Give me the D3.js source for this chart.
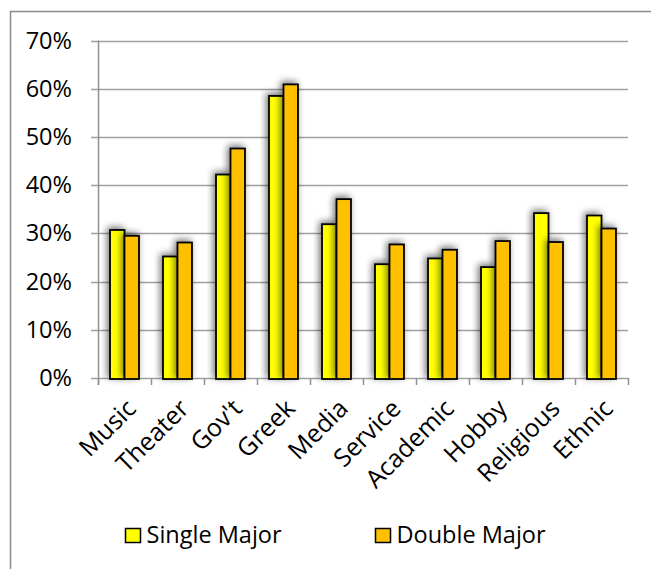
<!DOCTYPE html>
<html>
<head>
<meta charset="utf-8">
<script src="https://cdn.jsdelivr.net/npm/d3@7"></script>
<style>
  html, body { margin: 0; padding: 0; background: #fff; }
  svg { display: block; }
  text { font-family: "Open Sans", sans-serif; fill: #000; }
</style>
</head>
<body>
<svg id="chart" width="651" height="569"></svg>
<script>
const categories = ["Music", "Theater", "Gov't", "Greek", "Media", "Service", "Academic", "Hobby", "Religious", "Ethnic"];
const seriesNames = ["Single Major", "Double Major"];
const singleMajor = [0.307, 0.252, 0.422, 0.585, 0.319, 0.236, 0.248, 0.230, 0.342, 0.337];
const doubleMajor = [0.295, 0.281, 0.476, 0.609, 0.371, 0.277, 0.266, 0.284, 0.282, 0.310];
const seriesColors = ["#FFFF00", "#FFC000"];
const yTicks = [0, 0.1, 0.2, 0.3, 0.4, 0.5, 0.6, 0.7];

const svg = d3.select("#chart");
const plot = { left: 98, right: 628, top: 40.5, bottom: 378 };
const FS = 23.5;

// outer chart border (left & top visible)
svg.append("rect").attr("x", 10.5).attr("y", 11.5).attr("width", 700).attr("height", 700)
  .attr("fill", "none").attr("stroke", "#8c8c8c").attr("stroke-width", 1.5);

const defs = svg.append("defs");
const f = defs.append("filter").attr("id", "shadow").attr("x", "-60%").attr("y", "-20%").attr("width", "220%").attr("height", "140%");
f.append("feDropShadow").attr("dx", -2).attr("dy", -2).attr("stdDeviation", 3.5)
  .attr("flood-color", "#000").attr("flood-opacity", 0.55);

const y = d3.scaleLinear().domain([0, 0.7]).range([plot.bottom, plot.top]);
const x = d3.scaleBand().domain(categories).range([plot.left, plot.right]).paddingInner(0).paddingOuter(0);
const xs = d3.scaleBand().domain(seriesNames).range([0, x.bandwidth()]).paddingInner(0).paddingOuter(0.83);

// gridlines
svg.append("g").selectAll("line").data(yTicks).join("line")
  .attr("x1", plot.left - 7).attr("x2", plot.right)
  .attr("y1", d => Math.round(y(d)) + 0.5).attr("y2", d => Math.round(y(d)) + 0.5)
  .attr("stroke", "#a0a0a0").attr("stroke-width", 1.3);

// y axis labels
const yAxis = d3.axisLeft(y).tickValues(yTicks).tickFormat(d3.format(".0%")).tickSize(0).tickPadding(0);
const gy = svg.append("g").attr("transform", `translate(${plot.left - 26},0)`).call(yAxis);
gy.select(".domain").remove();
gy.selectAll("text").attr("font-size", FS).attr("font-family", "'Open Sans', sans-serif").attr("fill", "#000");

// y axis line
svg.append("line").attr("x1", plot.left + 0.5).attr("x2", plot.left + 0.5)
  .attr("y1", plot.top).attr("y2", plot.bottom + 7).attr("stroke", "#909090").attr("stroke-width", 1.5);

// category ticks
const bounds = categories.map(c => x(c) + x.bandwidth()).concat([plot.left]);
svg.append("g").selectAll("line").data(bounds).join("line")
  .attr("x1", d => Math.round(d) + 0.5).attr("x2", d => Math.round(d) + 0.5)
  .attr("y1", plot.bottom).attr("y2", plot.bottom + 7)
  .attr("stroke", "#909090").attr("stroke-width", 1.5);

// bars
const data = categories.map((c, i) => ({ cat: c, vals: [singleMajor[i], doubleMajor[i]] }));
const groups = svg.append("g").selectAll("g").data(data).join("g")
  .attr("transform", d => `translate(${x(d.cat)},0)`);
groups.selectAll("rect").data(d => d.vals.map((v, j) => ({ v, s: seriesNames[j], j }))).join("rect")
  .attr("x", d => xs(d.s))
  .attr("y", d => y(d.v))
  .attr("width", xs.bandwidth())
  .attr("height", d => y(0) - y(d.v) + 1)
  .attr("fill", d => seriesColors[d.j])
  .attr("stroke", "#000").attr("stroke-width", 1.8)
  .attr("filter", "url(#shadow)");

// category labels
svg.append("g").selectAll("text").data(categories).join("text")
  .attr("transform", d => `translate(${x(d) + x.bandwidth() / 2 + 13},${plot.bottom + 32}) rotate(-45)`)
  .attr("text-anchor", "end")
  .attr("font-size", 25)
  .text(d => d);

// legend
const legendX = [125, 375];
const lg = svg.append("g").selectAll("g").data(seriesNames).join("g")
  .attr("transform", (d, i) => `translate(${legendX[i]},528)`);
lg.append("rect").attr("x", 0.5).attr("y", 0.5).attr("width", 15).attr("height", 14)
  .attr("fill", (d, i) => seriesColors[i]).attr("stroke", "#000").attr("stroke-width", 1.5);
lg.append("text").attr("x", 21.5).attr("y", 14.5).attr("font-size", FS).text(d => d);
</script>
</body>
</html>
